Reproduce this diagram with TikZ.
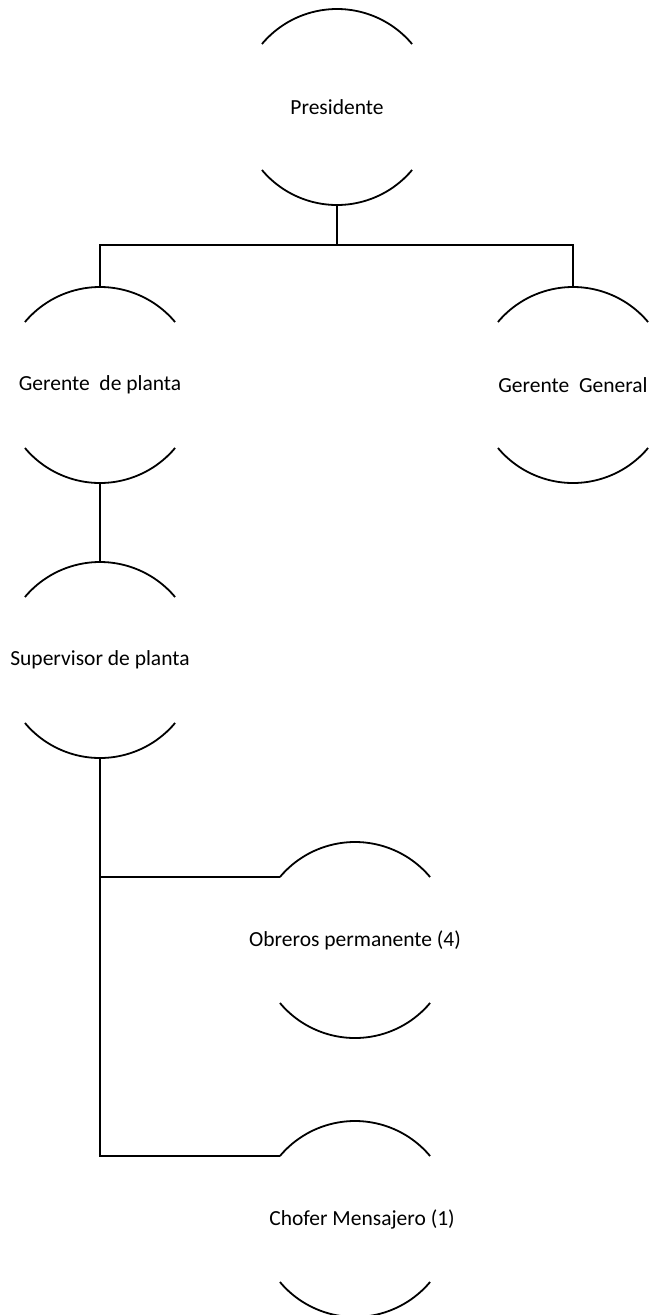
\documentclass[tikz,border=0pt]{standalone}
\usepackage{fontspec}
\setmainfont{Carlito}
\newcommand{\ctext}[1]{\makebox[0pt]{#1}}
\begin{document}
\begin{tikzpicture}[x=1pt,y=1pt,
  orgnode/.style={circle,minimum size=196pt,inner sep=0pt,outer sep=0pt,font=\fontsize{21.5}{25}\selectfont},
  arcline/.style={line width=1.8pt},
  link/.style={line width=1.8pt}]
\useasboundingbox (0,0) rectangle (651,-1315);
\node[orgnode] (pres) at (337,-107) {\ctext{Presidente}};
\node[orgnode] (gp) at (100,-385) {\ctext{Gerente\ \ de planta}};
\node[orgnode] (gg) at (573,-385) {\ctext{Gerente\ \ General}};
\node[orgnode] (sup) at (100,-660) {\ctext{Supervisor de planta}};
\node[orgnode] (ob) at (355,-940) {\ctext{Obreros permanente (4)}};
\node[orgnode] (ch) at (355,-1219) {\ctext{\hspace*{14pt}Chofer Mensajero (1)}};
\foreach \n in {pres,gp,gg,sup,ob,ch}{
  \draw[arcline] (\n.40) arc[start angle=40,end angle=140,radius=98pt];
  \draw[arcline] (\n.220) arc[start angle=220,end angle=320,radius=98pt];
}
\coordinate (j) at (337,-245);
\draw[link] (pres.south) -- (j);
\draw[link] (gp.north) |- (j) -| (gg.north);
\draw[link] (gp.south) -- (sup.north);
\draw[link] (sup.south) |- (ch.140);
\draw[link] (ob.140) -| (sup.south);
\end{tikzpicture}
\end{document}
